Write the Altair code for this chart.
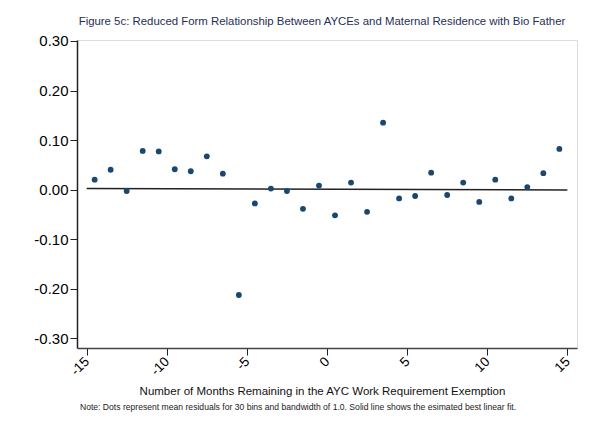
import altair as alt
import pandas as pd

# Bin midpoints (months remaining) and mean residuals
months = [-14.5, -13.5, -12.5, -11.5, -10.5, -9.5, -8.5, -7.5, -6.5, -5.5,
          -4.5, -3.5, -2.5, -1.5, -0.5, 0.5, 1.5, 2.5, 3.5, 4.5,
          5.5, 6.5, 7.5, 8.5, 9.5, 10.5, 11.5, 12.5, 13.5, 14.5]
residuals = [0.020, 0.040, -0.003, 0.078, 0.077, 0.041, 0.037, 0.067, 0.032, -0.213,
             -0.028, 0.002, -0.003, -0.039, 0.008, -0.052, 0.014, -0.045, 0.135, -0.018,
             -0.013, 0.034, -0.011, 0.014, -0.025, 0.020, -0.018, 0.005, 0.033, 0.082]

fit_x = [-15, 15]
fit_y = [0.002, -0.001]

x_ticks = [-15, -10, -5, 0, 5, 10, 15]
y_ticks = [-0.3, -0.2, -0.1, 0.0, 0.1, 0.2, 0.3]

title_text = "Figure 5c: Reduced Form Relationship Between AYCEs and Maternal Residence with Bio Father"
x_title = "Number of Months Remaining in the AYC Work Requirement Exemption"
note_text = ("Note: Dots represent mean residuals for 30 bins and bandwidth of 1.0. "
             "Solid line shows the esimated best linear fit.")

pts = pd.DataFrame({"m": months, "r": residuals})
fit = pd.DataFrame({"m": fit_x, "r": fit_y})

FONT = "Liberation Sans"

xscale = alt.Scale(domain=[-15.6, 15.6], nice=False, zero=False)
yscale = alt.Scale(domain=[-0.32, 0.302], nice=False, zero=False)

xaxis = alt.Axis(
    values=x_ticks, title=x_title, grid=False,
    labelAngle=315, labelAlign="right", labelBaseline="middle",
    labelFontSize=13.5, labelFont=FONT, labelColor="#000",
    labelExpr="(datum.value < 0 ? '-' : '') + format(abs(datum.value), 'd')",
    labelPadding=4,
    tickSize=7, tickColor="#222", tickWidth=1,
    domainColor="#444", domainWidth=1.5,
    titleFont=FONT, titleFontSize=11.5, titleFontWeight="normal", titleColor="#111",
    titleBaseline="middle", titleY=43, titleX=245,
)
yaxis = alt.Axis(
    values=y_ticks, title=None, grid=False,
    labelFontSize=15, labelFont=FONT, labelColor="#000",
    labelExpr="(datum.value < -0.0001 ? '-' : '') + format(abs(datum.value), '.2f')",
    labelPadding=2,
    tickSize=7, tickColor="#222", tickWidth=1,
    domainColor="#222", domainWidth=1.5,
)

points = alt.Chart(pts).mark_circle(size=34, color="#1a476f", opacity=1).encode(
    x=alt.X("m:Q", scale=xscale, axis=xaxis),
    y=alt.Y("r:Q", scale=yscale, axis=yaxis),
)

line = alt.Chart(fit).mark_line(color="#222", strokeWidth=1.5).encode(
    x=alt.X("m:Q", scale=xscale),
    y=alt.Y("r:Q", scale=yscale),
)

note = alt.Chart(pd.DataFrame({"t": [note_text]})).mark_text(
    font=FONT, fontSize=8.6, color="#222", align="center", baseline="middle"
).encode(text="t:N", x=alt.value(221), y=alt.value(367))

chart = alt.layer(line, points, note).properties(
    width=500, height=308,
    autosize=alt.AutoSizeParams(type="none"),
    padding={"left": 69, "top": 32, "right": 4, "bottom": 79},
    title=alt.TitleParams(
        text=title_text, font=FONT, fontSize=11.4, fontWeight="normal",
        color="#1f2f55", anchor="middle", offset=7, dx=-5,
    ),
).configure_view(stroke="transparent", strokeWidth=0).configure(background="white")

chart.save("out.html", embed_options={"renderer": "svg", "actions": False})
